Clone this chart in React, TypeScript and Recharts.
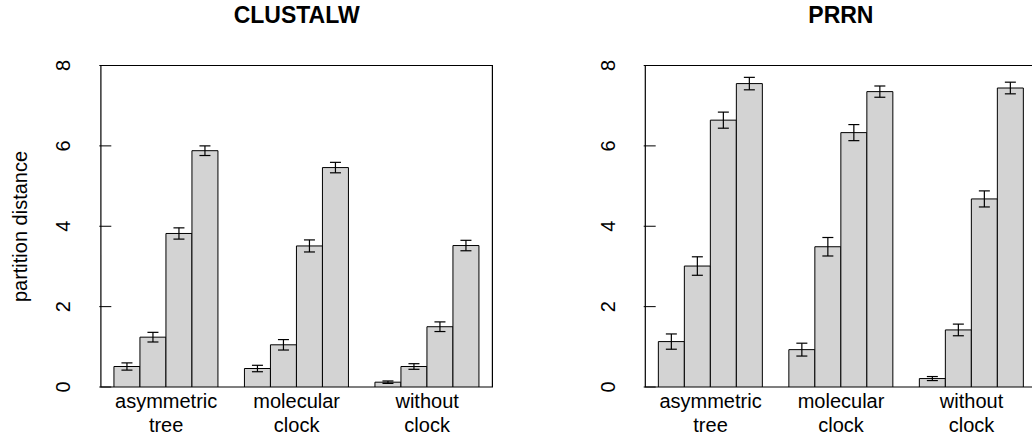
import React from 'react';
import { BarChart, Bar, XAxis, YAxis, ErrorBar, ReferenceArea } from 'recharts';

const FONT = '"Liberation Sans", Arial, Helvetica, sans-serif';

const groups = ['asymmetric tree', 'molecular clock', 'without clock'];
const yTicks = [0, 2, 4, 6, 8];

// CLUSTALW: one array per bar position, values across the three groups
const clustalwMeans = [
  [0.51, 0.46, 0.12],
  [1.24, 1.05, 0.51],
  [3.82, 3.51, 1.5],
  [5.88, 5.46, 3.52],
];
const clustalwErrors = [
  [0.09, 0.08, 0.03],
  [0.12, 0.13, 0.07],
  [0.14, 0.15, 0.12],
  [0.12, 0.13, 0.13],
];

// PRRN
const prrnMeans = [
  [1.13, 0.93, 0.21],
  [3.01, 3.49, 1.42],
  [6.64, 6.33, 4.68],
  [7.55, 7.35, 7.44],
];
const prrnErrors = [
  [0.19, 0.16, 0.05],
  [0.23, 0.23, 0.145],
  [0.2, 0.2, 0.2],
  [0.155, 0.14, 0.145],
];

const buildRows = (means: number[][], errs: number[][]) =>
  groups.map((g, i) => {
    const row: any = { group: g };
    means.forEach((s, k) => {
      row['m' + k] = s[i];
      row['e' + k] = errs[k][i];
    });
    return row;
  });

const YTick = ({ x, y, payload }: any) => (
  <g>
    <line x1={x} x2={x + 12} y1={y} y2={y} stroke="#000" strokeWidth={1} />
    <text
      x={x - 29}
      y={y}
      transform={`rotate(-90 ${x - 29} ${y})`}
      textAnchor="middle"
      fontSize={20}
      fontFamily={FONT}
      fill="#000"
    >
      {payload.value}
    </text>
  </g>
);

const XTick = ({ x, y, payload }: any) => {
  const words = String(payload.value).split(' ');
  return (
    <text x={x} y={y + 21.3} textAnchor="middle" fontSize={20} fontFamily={FONT} fill="#000">
      <tspan x={x}>{words[0]}</tspan>
      <tspan x={x} dy={23.4}>{words[1]}</tspan>
    </text>
  );
};

const Panel = ({ rows, width, marginLeft, marginRight }: any) => (
  <BarChart
    width={width}
    height={437}
    data={rows}
    margin={{ top: 65.5, bottom: 0, left: marginLeft, right: marginRight }}
    barGap={0}
    barCategoryGap="10%"
  >
    <XAxis
      dataKey="group"
      height={50}
      tickSize={0}
      tickMargin={0}
      axisLine={false}
      tick={<XTick />}
      padding={{ left: 1.6, right: 1.6 }}
      interval={0}
    />
    <YAxis
      width={60}
      domain={[0, 8]}
      ticks={yTicks}
      tickSize={0}
      tickMargin={0}
      axisLine={false}
      tick={<YTick />}
      allowDataOverflow
    />
    {[0, 1, 2, 3].map((k) => (
      <Bar key={k} dataKey={'m' + k} fill="#d3d3d3" stroke="#000" strokeWidth={1} isAnimationActive={false}>
        <ErrorBar dataKey={'e' + k} width={5.5} stroke="#000" strokeWidth={1.2} isAnimationActive={false} />
      </Bar>
    ))}
    <ReferenceArea y1={0} y2={8} fill="none" stroke="#000" strokeWidth={1.2} fillOpacity={0} />
  </BarChart>
);

export default function App() {
  return (
    <div
      style={{
        position: 'absolute',
        left: 0,
        top: 0,
        width: 1032,
        height: 437,
        overflow: 'hidden',
        background: '#fff',
        fontFamily: FONT,
      }}
    >
      <div style={{ position: 'absolute', left: 0, top: 0 }}>
        <Panel rows={buildRows(clustalwMeans, clustalwErrors)} width={516} marginLeft={39.3} marginRight={22} />
      </div>
      <div style={{ position: 'absolute', left: 516, top: 0 }}>
        <Panel rows={buildRows(prrnMeans, prrnErrors)} width={528} marginLeft={67.7} marginRight={5.6} />
      </div>
      <svg width={1032} height={437} style={{ position: 'absolute', left: 0, top: 0, pointerEvents: 'none' }}>
        <text x={296.7} y={23.3} textAnchor="middle" fontSize={23} fontWeight="bold" fontFamily={FONT} fill="#000">
          CLUSTALW
        </text>
        <text x={840.9} y={23.3} textAnchor="middle" fontSize={23} fontWeight="bold" fontFamily={FONT} fill="#000">
          PRRN
        </text>
        <text
          x={27}
          y={226.5}
          transform="rotate(-90 27 226.5)"
          textAnchor="middle"
          fontSize={20}
          fontFamily={FONT}
          fill="#000"
        >
          partition distance
        </text>
      </svg>
    </div>
  );
}
